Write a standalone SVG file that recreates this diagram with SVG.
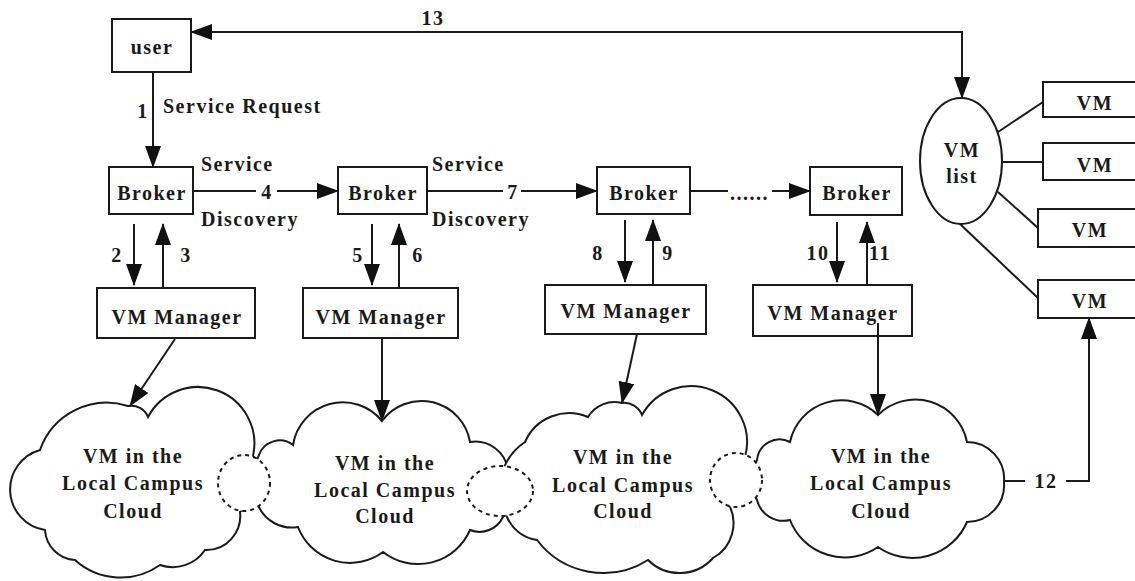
<svg xmlns="http://www.w3.org/2000/svg" width="1135" height="581" viewBox="0 0 1135 581">
<defs>
<marker id="ah" viewBox="0 0 22 16" refX="21" refY="8" markerWidth="22" markerHeight="16" markerUnits="userSpaceOnUse" orient="auto-start-reverse"><path d="M0,0 L22,8 L0,16 z" fill="#111"/></marker>
<style>
text{font-family:"Liberation Serif","Times New Roman",serif;font-weight:bold;font-size:20px;fill:#1a1a1a;letter-spacing:1.5px}
.c{text-anchor:middle}
.box{fill:#fff;stroke:#1a1a1a;stroke-width:2}
.cloud{fill:#fff;stroke:#1a1a1a;stroke-width:2}
.dash{fill:#fff;stroke:#1a1a1a;stroke-width:2;stroke-dasharray:4 4}
.ln{fill:none;stroke:#1a1a1a;stroke-width:2}
.ar{fill:none;stroke:#1a1a1a;stroke-width:2;marker-end:url(#ah)}
</style>
</defs>
<rect width="1135" height="581" fill="#fff"/>

<g id="user"><rect class="box" x="112" y="19" width="79" height="53"/><text class="c" x="152" y="54">user</text></g>

<g id="broker1"><rect class="box" x="109" y="167" width="84" height="47"/><text class="c" x="152" y="200">Broker</text></g>
<g id="broker2"><rect class="box" x="338" y="167" width="89" height="47"/><text class="c" x="383" y="200">Broker</text></g>
<g id="broker3"><rect class="box" x="597" y="167" width="93" height="47"/><text class="c" x="644" y="200">Broker</text></g>
<g id="broker4"><rect class="box" x="810" y="167" width="92" height="48"/><text class="c" x="857" y="200">Broker</text></g>

<g id="vmm1"><rect class="box" x="97" y="288" width="158" height="50"/><text class="c" x="177" y="324">VM Manager</text></g>
<g id="vmm2"><rect class="box" x="303" y="288" width="155" height="50"/><text class="c" x="381" y="324">VM Manager</text></g>
<g id="vmm3"><rect class="box" x="545" y="285" width="161" height="49"/><text class="c" x="626" y="318">VM Manager</text></g>
<g id="vmm4"><rect class="box" x="753" y="285" width="159" height="51"/><text class="c" x="833" y="320">VM Manager</text></g>

<g id="vmlist"><ellipse class="box" cx="961" cy="161" rx="41" ry="63"/><text class="c" x="962" y="157">VM</text><text class="c" x="962" y="183">list</text></g>
<g id="vm1"><rect class="box" x="1043" y="82" width="100" height="35"/><text class="c" x="1095" y="110">VM</text></g>
<g id="vm2"><rect class="box" x="1043" y="143" width="100" height="37"/><text class="c" x="1095" y="172">VM</text></g>
<g id="vm3"><rect class="box" x="1038" y="209" width="105" height="38"/><text class="c" x="1090" y="237">VM</text></g>
<g id="vm4"><rect class="box" x="1038" y="280" width="105" height="38"/><text class="c" x="1090" y="308">VM</text></g>

<g id="cloud1">
<path class="cloud" d="M40,450 A70.5,70.5 0 0 1 128,406 A18,18 0 0 1 148,417 A56.5,56.5 0 0 1 253,456 A46,46 0 0 1 240,512 A34,34 0 0 1 205,550 A39,39 0 0 1 160,565 A68,68 0 0 1 75,560 A32,32 0 0 1 45,530 A41,41 0 0 1 40,450 Z"/>
<text class="c" x="133" y="463">VM in the</text><text class="c" x="133" y="490">Local Campus</text><text class="c" x="133" y="518">Cloud</text>
</g>
<g id="cloud2">
<path class="cloud" d="M293,445 A50.4,50.4 0 0 1 382,421 A49.1,49.1 0 0 1 470,442 A33,33 0 0 1 508,470 A39,39 0 0 1 503,517 A26,26 0 0 1 470,530 A56.7,56.7 0 0 1 383,552 A55.6,55.6 0 0 1 298,527 A36.6,36.6 0 0 1 258,505 A55,55 0 0 1 259,455 A21.9,21.9 0 0 1 293,445 Z"/>
<text class="c" x="385" y="470">VM in the</text><text class="c" x="385" y="497">Local Campus</text><text class="c" x="385" y="523">Cloud</text>
</g>
<g id="cloud3">
<path class="cloud" d="M525,442 A48,48 0 0 1 588,417 A31,31 0 0 1 622,403 A19,19 0 0 1 642,415 A56,56 0 0 1 745,457 A41.5,41.5 0 0 1 728,503 A39.8,39.8 0 0 1 713,558 A44.7,44.7 0 0 1 648,560 A83.3,83.3 0 0 1 537,540 A38,38 0 0 1 507,517 A57,57 0 0 1 525,442 Z"/>
<text class="c" x="623" y="464">VM in the</text><text class="c" x="623" y="492">Local Campus</text><text class="c" x="623" y="518">Cloud</text>
</g>
<g id="cloud4">
<path class="cloud" d="M790,442 A52.7,52.7 0 0 1 878,415 A52.7,52.7 0 0 1 967,442 A37,37 0 0 1 1004,482 A37,37 0 0 1 967,522 A59.5,59.5 0 0 1 878,547 A58.7,58.7 0 0 1 790,520 A27.3,27.3 0 0 1 757,500 A42.5,42.5 0 0 1 757,460 A22.7,22.7 0 0 1 790,442 Z"/>
<text class="c" x="881" y="463">VM in the</text><text class="c" x="881" y="490">Local Campus</text><text class="c" x="881" y="518">Cloud</text>
</g>

<g id="links">
<ellipse class="dash" cx="244" cy="483" rx="26" ry="28"/>
<ellipse class="dash" cx="500" cy="491" rx="33" ry="25"/>
<ellipse class="dash" cx="736" cy="480" rx="26" ry="27"/>
</g>

<g id="connectors">
<polyline class="ln" points="962,98 962,32 191,32" marker-start="url(#ah)" marker-end="url(#ah)"/>
<text class="c" x="433" y="25">13</text>
<line class="ar" x1="153" y1="72" x2="153" y2="167"/>
<text class="c" x="143" y="118">1</text>
<text x="163" y="113">Service Request</text>

<line class="ln" x1="193" y1="191" x2="256" y2="191"/>
<text class="c" x="267" y="199">4</text>
<line class="ar" x1="277" y1="191" x2="338" y2="191"/>
<text x="201" y="171">Service</text>
<text x="201" y="226">Discovery</text>

<line class="ln" x1="427" y1="191" x2="503" y2="191"/>
<text class="c" x="513" y="199">7</text>
<line class="ar" x1="521" y1="191" x2="597" y2="191"/>
<text x="432" y="171">Service</text>
<text x="432" y="226">Discovery</text>

<line class="ln" x1="690" y1="191" x2="728" y2="191"/>
<text x="730" y="200">......</text>
<line class="ar" x1="772" y1="191" x2="810" y2="191"/>

<line class="ar" x1="134" y1="224" x2="134" y2="285"/>
<line class="ar" x1="163" y1="288" x2="163" y2="224"/>
<text class="c" x="117" y="262">2</text><text class="c" x="186" y="262">3</text>
<line class="ar" x1="372" y1="224" x2="372" y2="285"/>
<line class="ar" x1="399" y1="288" x2="399" y2="224"/>
<text class="c" x="358" y="262">5</text><text class="c" x="418" y="262">6</text>
<line class="ar" x1="625" y1="220" x2="625" y2="282"/>
<line class="ar" x1="653" y1="285" x2="653" y2="220"/>
<text class="c" x="598" y="260">8</text><text class="c" x="668" y="260">9</text>
<line class="ar" x1="837" y1="222" x2="837" y2="282"/>
<line class="ar" x1="867" y1="285" x2="867" y2="222"/>
<text class="c" x="818" y="260">10</text><text class="c" x="880" y="260">11</text>

<line class="ar" x1="175" y1="339" x2="130" y2="406"/>
<line class="ar" x1="382" y1="338" x2="382" y2="421"/>
<line class="ar" x1="637" y1="334" x2="622" y2="403"/>
<line class="ar" x1="878" y1="323" x2="878" y2="415"/>

<line class="ln" x1="998" y1="132" x2="1043" y2="102"/>
<line class="ln" x1="1002" y1="162" x2="1043" y2="162"/>
<line class="ln" x1="998" y1="192" x2="1038" y2="228"/>
<line class="ln" x1="960" y1="224" x2="1038" y2="298"/>

<line class="ln" x1="1004" y1="481" x2="1025" y2="481"/>
<text class="c" x="1046" y="488">12</text>
<polyline class="ar" points="1066,481 1089,481 1089,318"/>
</g>
</svg>
